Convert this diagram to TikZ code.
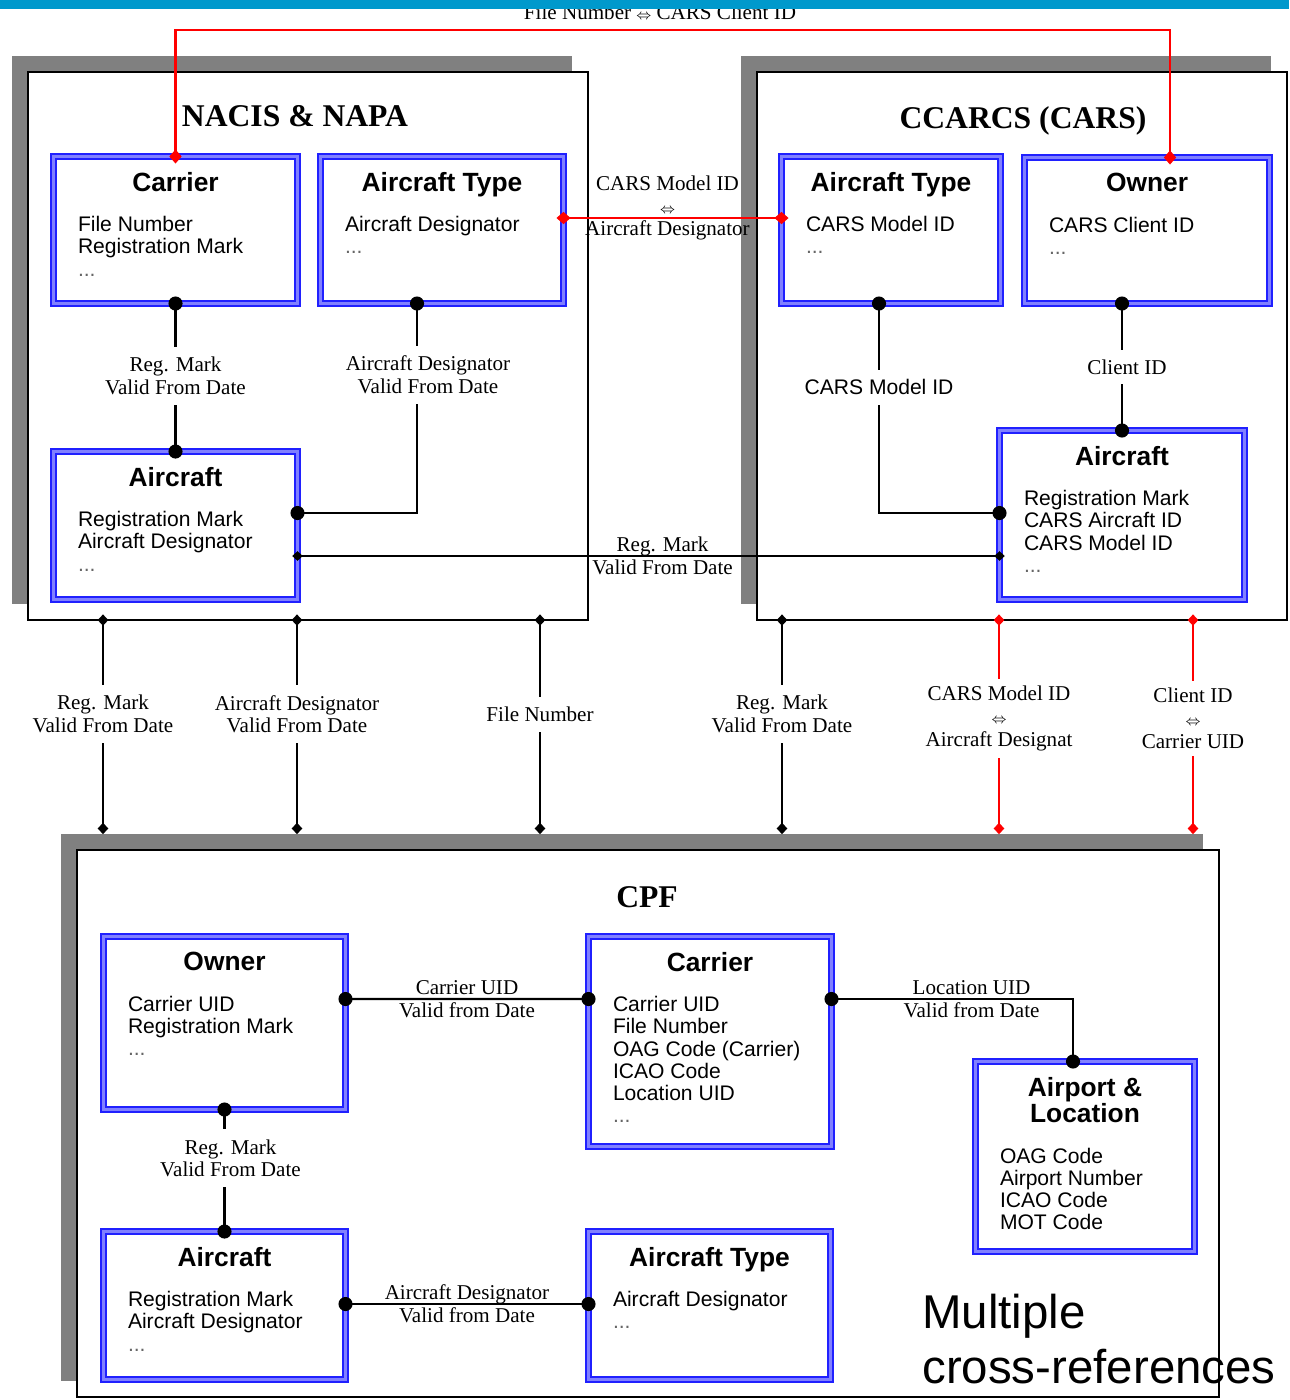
\documentclass[tikz,border=0pt]{standalone}
\usepackage{fontspec}
\setmainfont{Liberation Serif}
\setsansfont{Liberation Sans}
\usetikzlibrary{positioning}
\usetikzlibrary{arrows.meta}
\usetikzlibrary{shadows}

\definecolor{topbar}{RGB}{0,153,204}
\definecolor{entblue}{RGB}{32,32,255}
\definecolor{entband}{RGB}{128,128,255}
\definecolor{shadowgray}{RGB}{128,128,128}
\definecolor{xref}{RGB}{255,0,0}

\newdimen\pix \pix=0.02cm
\newcommand{\moreattr}{\textcolor{black!60}{...}}
\newcommand{\entbox}[4]{%
  \parbox[c][#2\pix][t]{#1\pix}{\vspace*{16\pix}%
    {\centering\fontsize{15pt}{13.6pt}\selectfont\bfseries #3\par}%
    \vspace{18\pix}%
    {\fontsize{12pt}{12.6pt}\selectfont\raggedright\leftskip=24.5\pix #4\par}}}

\begin{document}
\begin{tikzpicture}[x=0.02cm, y=-0.02cm,
  frame/.style={draw, line width=1.2pt, fill=white, anchor=north west, inner sep=0pt, outer sep=0pt,
    drop shadow={shadow xshift=-9pt, shadow yshift=9pt, fill=shadowgray, opacity=1}},
  heading/.style={font=\fontsize{18pt}{20pt}\selectfont\bfseries, inner sep=0pt, anchor=base},
  entity/.style={draw=entblue, line width=0.9pt, double=entband, double distance=2pt, fill=white,
    inner sep=0pt, outer sep=0pt, anchor=north west, xshift=3.5\pix, yshift=-3.5\pix, font=\sffamily},
  linklabel/.style={font=\fontsize{12pt}{13pt}\selectfont, align=center, inner sep=1pt},
  gaplabel/.style={linklabel, fill=white, inner xsep=2pt, inner ysep=10\pix},
  link/.style={line width=1.25pt},
  dotlink/.style={link, {Circle[length=8pt]}-{Circle[length=8pt]}, shorten <=-4pt, shorten >=-4pt},
  smalllink/.style={link, {Diamond[length=6pt,width=5.5pt]}-{Diamond[length=6pt,width=5.5pt]}, shorten <=-3pt, shorten >=-3pt},
  framelink/.style={link, {Diamond[length=6.5pt,width=6pt]}-{Diamond[length=6.5pt,width=6pt]}, shorten <=-3.2pt},
  redlink/.style={link, draw=xref, {Diamond[length=8pt,width=7pt]}-{Diamond[length=8pt,width=7pt]}, shorten <=-4pt, shorten >=-4pt}]

  \useasboundingbox (0,0) rectangle (1289,1400);

  %% systems
  \node[frame, minimum width=560\pix, minimum height=548\pix] (nacis) at (28,72) {};
  \node[frame, minimum width=530\pix, minimum height=548\pix] (ccarcs) at (757,72) {};
  \node[frame, minimum width=1142\pix, minimum height=547\pix] (cpf) at (77,850) {};
  \coordinate (cpfShadow) at ([yshift=9pt]cpf.north);

  \node[heading] (nacisTitle) at (295,126) {NACIS \& NAPA};
  \node[heading] (ccarcsTitle) at (1023,128) {CCARCS (CARS)};
  \node[heading] (cpfTitle) at (647,907) {CPF};

  %% NACIS & NAPA tables
  \node[entity] (nCar) at (50,153) {\entbox{244}{147}{Carrier}{File Number\\Registration Mark\\\moreattr}};
  \node[entity] (nType) at (317,153) {\entbox{243}{147}{Aircraft Type}{Aircraft Designator\\\moreattr}};
  \node[entity] (nAc) at (50,448) {\entbox{244}{148}{Aircraft}{Registration Mark\\Aircraft Designator\\\moreattr}};

  %% CCARCS tables
  \node[entity] (cType) at (778,153) {\entbox{219}{147}{Aircraft Type}{CARS Model ID\\\moreattr}};
  \node[entity] (cOwn) at (1021,154) {\entbox{245}{146}{Owner}{CARS Client ID\\\moreattr}};
  \node[entity] (cAc) at (996,427) {\entbox{245}{169}{Aircraft}{Registration Mark\\CARS Aircraft ID\\CARS Model ID\\\moreattr}};

  %% CPF tables
  \node[entity] (pOwn) at (100,933) {\entbox{242}{173}{Owner}{Carrier UID\\Registration Mark\\\moreattr}};
  \node[entity] (pCar) at (585,933) {\entbox{243}{210}{Carrier}{Carrier UID\\File Number\\OAG Code (Carrier)\\ICAO Code\\Location UID\\\moreattr}};
  \node[entity] (pLoc) at (972,1058) {\entbox{219}{190}{Airport \&\\Location}{OAG Code\\Airport Number\\ICAO Code\\MOT Code}};
  \node[entity] (pAc) at (100,1228) {\entbox{242}{148}{Aircraft}{Registration Mark\\Aircraft Designator\\\moreattr}};
  \node[entity] (pType) at (585,1228) {\entbox{242}{148}{Aircraft Type}{Aircraft Designator\\\moreattr}};

  %% links inside the systems
  \draw[dotlink] (nCar.south) -- node[gaplabel, pos=0.49] {Reg. Mark\\Valid From Date} (nAc.north);
  \draw[dotlink] ([xshift=-25\pix]nType.south) |- node[gaplabel, pos=0.17, xshift=11\pix] {Aircraft Designator\\Valid From Date} ([yshift=12.5\pix]nAc.east);
  \draw[dotlink] ([xshift=-12\pix]cType.south) |- node[gaplabel, pos=0.2, font=\sffamily\fontsize{12pt}{13pt}\selectfont] {CARS Model ID} ([yshift=2\pix]cAc.west);
  \draw[dotlink] ([xshift=-25\pix]cOwn.south) -- node[gaplabel, xshift=5\pix] {Client ID} (cAc.north);

  \draw[dotlink] ([yshift=24\pix]pOwn.east) -- node[linklabel] {Carrier UID\\Valid from Date} ([yshift=42.5\pix]pCar.west);
  \draw[dotlink] ([yshift=42.5\pix]pCar.east) -| node[linklabel, pos=0.29] {Location UID\\Valid from Date} ([xshift=-12\pix]pLoc.north);
  \draw[dotlink] (pOwn.south) -- node[gaplabel, pos=0.4, xshift=6\pix] {Reg. Mark\\Valid From Date} (pAc.north);
  \draw[dotlink] ([yshift=1.5\pix]pAc.east) -- node[linklabel] {Aircraft Designator\\Valid from Date} ([yshift=1.5\pix]pType.west);

  %% links between the systems
  \draw[smalllink] ([yshift=-30.5\pix]nAc.east) -- node[linklabel, pos=0.52] {Reg. Mark\\Valid From Date} ([yshift=-41\pix]cAc.west);

  \coordinate (topRoute) at (660,30);
  \draw[redlink] (nCar.north) |- (topRoute) -| ([xshift=23\pix]cOwn.north);
  \node[linklabel, above=8\pix of topRoute] (fileClient) {File Number {\footnotesize$\Leftrightarrow$} CARS Client ID};

  \draw[redlink] ([yshift=12\pix]nType.east) -- node[linklabel, pos=0.477, yshift=10\pix] {CARS Model ID\\{\footnotesize$\Leftrightarrow$}\\Aircraft Designator} ([yshift=12\pix]cType.west);

  \foreach \src/\xc/\txt in {nacis/103/{Reg. Mark\\Valid From Date},
      nacis/297/{Aircraft Designator\\Valid From Date},
      nacis/540/{File Number},
      ccarcs/782/{Reg. Mark\\Valid From Date}}
    \draw[framelink] (\src.south -| \xc,0) -- node[gaplabel, pos=0.44] {\txt} (cpfShadow -| \xc,0);

  \foreach \xc/\txt in {999/{CARS Model ID\\{\footnotesize$\Leftrightarrow$}\\Aircraft Designat},
      1193/{Client ID\\{\footnotesize$\Leftrightarrow$}\\Carrier UID}}
    \draw[framelink, draw=xref] (ccarcs.south -| \xc,0) -- node[gaplabel, pos=0.46, inner ysep=7\pix] {\txt} (cpfShadow -| \xc,0);

  %% caption
  \node[font=\sffamily\fontsize{27pt}{31.2pt}\selectfont, align=left, anchor=north west, inner sep=0pt] (xrefNote) at (922,1294) {Multiple\\cross-references};

  \fill[topbar] (0,0) rectangle (1289,9);
\end{tikzpicture}
\end{document}
